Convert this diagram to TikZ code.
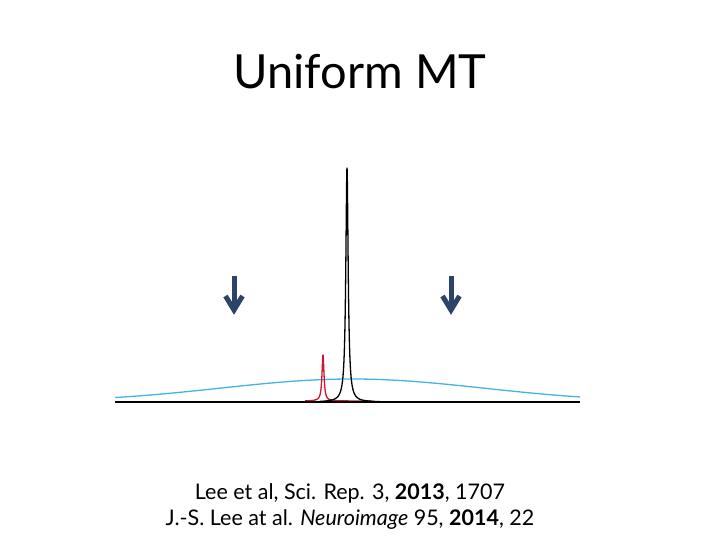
\documentclass[tikz,border=0pt]{standalone}
\usepackage{fontspec}
\setmainfont{Lato}
\definecolor{arrowblue}{HTML}{2C4468}
\definecolor{specblue}{HTML}{45B3E8}
\definecolor{specred}{HTML}{D0142C}
\begin{document}
\begin{tikzpicture}[x=1pt,y=-1pt,
  downarrow/.style={draw=arrowblue,line width=5pt,line join=miter},
  spec/.style={line width=1.3pt,line join=round}]
\useasboundingbox (0,0) rectangle (720,540);
\node (title) at (360,72) {\fontsize{47}{56}\selectfont Uniform MT};
% baseline axis
\coordinate (axL) at (115,402);
\coordinate (axR) at (580,402);
% blue broad line
\draw[spec,specblue] plot[domain=115:580,samples=120] (\x,{402-23*exp(-((\x-352)/185)^2)});
% red narrow peak
\draw[spec,specred] plot[domain=305:318,samples=30] (\x,{401-46*1.44/((\x-323)^2+1.44)});
\draw[spec,specred] plot[domain=318:328,samples=101] (\x,{401-46*1.44/((\x-323)^2+1.44)});
\draw[spec,specred] plot[domain=328:372,samples=60] (\x,{401-46*1.44/((\x-323)^2+1.44)});
\draw[black,line width=1.3pt] (axL) -- (axR);
% black tall peak
\draw[spec,black] plot[domain=320:342,samples=50] (\x,{402-234*2.0/((\x-347)^2+2.0)});
\draw[spec,black] plot[domain=342:352,samples=201] (\x,{402-234*2.0/((\x-347)^2+2.0)});
\draw[spec,black] plot[domain=352:380,samples=50] (\x,{402-234*2.0/((\x-347)^2+2.0)});
% arrows
\coordinate (a1t) at (234,276);
\coordinate (a1b) at (234,310);
\draw[downarrow] (a1t) -- (a1b);
\draw[downarrow] (225.5,296) -- (a1b) -- (242.5,296);
\coordinate (a2t) at (451,276);
\coordinate (a2b) at (451,310);
\draw[downarrow] (a2t) -- (a2b);
\draw[downarrow] (442.5,296) -- (a2b) -- (459.5,296);
\node[align=center,font=\fontsize{21.5}{26}\selectfont] (ref) at (350,507)
  {Lee et al, Sci. Rep. 3, \textbf{2013}, 1707\\
   J.-S. Lee at al. \textit{Neuroimage} 95, \textbf{2014}, 22};
\end{tikzpicture}
\end{document}
